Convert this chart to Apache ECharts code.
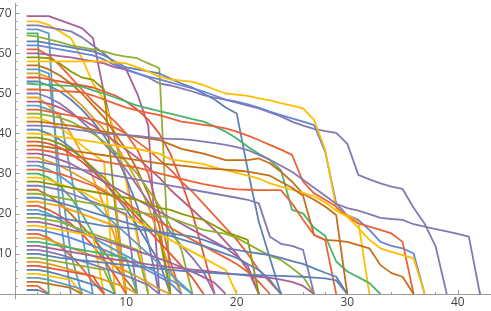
<!DOCTYPE html>
<html><head><meta charset="utf-8">
<script src="https://cdn.jsdelivr.net/npm/echarts@6/dist/echarts.min.js"></script>
<style>html,body{margin:0;padding:0;background:#fff}#c{width:491px;height:311px}</style>
</head><body><div id="c"></div>
<script>
// Tick labels
const xTickLabels = [10, 20, 30, 40];
const yTickLabels = [10, 20, 30, 40, 50, 60, 70];
const xMinorTicks = [2,4,6,8,12,14,16,18,22,24,26,28,32,34,36,38,42];
const yMinorTicks = [2,4,6,8,12,14,16,18,22,24,26,28,32,34,36,38,42,44,46,48,52,54,56,58,62,64,66,68,72];

// Each line: y values at x = 1, 2, 3, ...  (named by starting value)
const s69 = [69.3,69.3,69.3,68.3,67.3,66.3,63.8,50,38.4,29,15,0];
const s68 = [68,68,67.1,65.5,63.8,58.8,52.5,48.4,40,28,14,0];
const s67 = [67,67,66.5,66,65.5,64,62,60,57.5,55.9,55,54,52.5,52,51.3,50.5,49.6,49,48.4,47.7,47,46.3,45.3,44.3,43,42,41.2,40.6,40.2,37.5,29.7,28.6,27.6,26.8,26.2,21.5,17.5,11.8,0];
const s66 = [66,66,65,20,0];
const s65 = [65,65,0];
const s64 = [64.5,64.2,63.5,62.8,62,61.5,61,60.5,59.7,59.2,58.8,57.5,56.3,0];
const s63 = [63,63,62.5,62,61.5,61,60.5,59.5,58,56.5,56,55.5,55,53.7,52.5,51.5,50,48.5,46.5,45,31,18,9,0];
const s62 = [62,62,61.5,61,60.5,60,59.5,58.5,57,56,55,54.2,53.5,52.8,52,51.3,50.5,49.5,48.5,48,47.3,46.5,45.5,44.6,43.8,43,42.1,35.5,22.6,19.7,18.5,16,13,12,11.4,10.1,0];
const s61 = [61,61,59.5,57,54,51,48,45.5,43,40,36,30,20,8,0];
const s60 = [60,60,59.7,59.3,59,58.5,58,57.5,56.5,56,50,42,0];
const s59 = [59,59,58.8,57.5,55.5,54,53.4,51,22,0];
const s58 = [58,58,58,58,58,58,58,58,57.8,57.5,56.5,55.5,54.2,53.5,53.2,52.9,52.1,51,50,49.7,49.4,48.8,48.3,47.6,47,46.3,43.4,36,21.4,19.7,18,0];
const s57 = [57,57,56,54.5,52.5,50,47,44,40,36,31,25,17,0];
const s56 = [56,56,55,30,10,0];
const s55 = [55,55,54,52,49.5,47,44,41,37.5,33,28,22,14,6,0];
const s54 = [54,54,53.5,53,52.5,52,51.5,50.5,49.5,48,46,43.5,40,35,28,20,10,0];
const s53 = [53,53,52,50.5,48.5,46,43,39.5,35,29,22,13,0];
const s52 = [52.5,52.3,52.2,52,51.9,51.7,50.8,50,49,48,47,46.3,45.6,45,44.3,43.6,43,41.8,40.5,38.8,36.7,35,33.4,30.9,21,20.1,16.5,14.5,8.1,5.6,4.2,2.7,0];
const s51 = [51,51,50.8,50.6,50.5,50.3,49.5,48.5,47.5,46.5,45.8,45.2,44.6,43.8,43,42.6,42.2,41.8,41.3,40.5,39.5,38.4,37.2,36,34.7,28,25.1,23.5,21.8,19.3,17.6,16.8,16,15.1,13,0];
const s50 = [50,50,49,47.5,45.5,43,40.5,37.5,34.5,31,27,23,19,15.5,12,9,5.5,0];
const s49 = [49,49,47,44,40,35,29,22,14,0];
const s48 = [48,48,47.5,46.5,45,43.5,42,40,38,36,34,31.5,29,26,23.5,21,18.5,16,13,10,6,0];
const s47 = [47,47,46,45,30,15,0];
const s46 = [46,46,45.5,45,44.5,44,43.5,42.5,41.5,40,38,36,33.5,31,28,25.5,22.5,19.5,16.5,13.5,10,6,3,0];
const s45 = [45,45,44.5,44,43,41.5,40,38,35.5,33,30,26,22,17,11,0];
const s44 = [44,44,43,41.5,39.5,37,35,33,0];
const s43 = [43,43,42.7,42.3,42,41.5,41,40.5,40,39.6,39.2,38.8,38.4,37.3,36.2,35.6,35,34.2,33.4,33.4,33.4,33.8,32.6,30.5,28,25,23.5,21.8,19.7,0];
const s42 = [42,42,41.8,41.5,41.2,40.8,40.4,40,39.8,39.6,39.4,39.1,38.8,38.7,38.6,38.4,38,37.6,37.2,36.6,35.9,34.7,33.5,32,30.5,28.5,26.5,24.5,22.5,21.4,20.8,19.9,19,18.7,18.5,17.4,16.8,16.2,15.6,15,14.3,0];
const s41 = [41,41,40,38.5,36.5,34,31,28,24.5,21,17,12.5,8,0];
const s40 = [40,40,39.6,39.2,38.8,38.4,38,37.5,37,36.6,36.2,35.6,35,33.6,33.2,32.8,32.4,31.6,30.9,30.2,29.5,28.8,27.6,26.8,26,25.2,24.3,22.8,20.8,19.3,16.5,13.5,11.4,10.5,9.7,8.9,0];
const s39 = [39,39,38.5,37.5,36,34,31.5,29,26,23,20,17,14.5,0];
const s38 = [38,38,37.5,36.5,35,33,30.5,28,25,22,19,16,13,10,7,4,0];
const s37 = [37,37,36.6,36.2,35.8,35.4,35,34.6,34.2,33.8,33.4,33,32.6,32.3,32,31.7,31.4,31.2,31,30.8,30.5,30,29.5,28,26.5,24.5,14.7,13.5,13.3,13,12.2,11.4,7.2,5.2,4.3,0];
const s36 = [36,36,35.6,35,34.5,34,33.5,33,32.5,32,31.5,30.8,30.1,29.4,28.7,28,27.4,26.9,26.4,26.1,26,25.9,25.9,25.9,22.6,18.5,14.7,13.5,0];
const s35 = [35,35,34.5,33.5,32.5,31,29.5,28,26.5,25,23.5,22,20.5,19,17.5,16,14.5,13,11.5,9.5,7,0];
const s34 = [34,34,33,32,30.5,29,27.5,26,24,0];
const s33 = [33,33,32.5,32,31.5,31,30.5,30,29.5,29,28.5,28,27.5,27,26.5,26,25.5,25,24.5,24,23.5,22.6,14.3,12.5,12,11,0];
const s32 = [32,32,31,29.5,27.5,25,22.5,20,17.5,15,12.5,10,7.5,5,2.5,0];
const s31 = [31,31,30.5,30,29,28,27,25.5,24,22.5,21,19.5,18,16.5,15,13.5,12,10.5,9,7.5,5.5,3,0];
const s30 = [30,30,29,27,24,20,15,9,0];
const s29 = [29,29,28.5,27.5,26.5,25.5,24,22.5,21,19.5,18,16.5,15,13.5,12,10.5,9,7.5,6,0];
const s28 = [28,28,27.5,27,26.5,26,25.5,25,24.5,24,23.5,22.5,21.5,21,20,19.2,18.5,17,15.5,14.5,13.5,0];
const s27 = [27,27,26.5,26,25,24,23,22,21,20,0];
const s26 = [26,26,24.5,22.5,20,17,14,10.5,7,3.5,0];
const s25 = [25,25,24.5,24,23.5,23,22.5,22,21.5,21,20.5,20,19.5,19,18,17,16,15.5,15,14,12.5,11,9.5,8.5,6.5,4.3,0];
const s24 = [24,24,23.5,22.8,22,21.2,20.3,19.5,18.6,17.8,17,16.1,15.3,14.5,13.6,12.8,12,11,10,9,7.5,6,3.5,0];
const s23 = [23,23,22.5,22,21,20,19,18,17,0];
const s22 = [22,22,21,19.5,17.5,15,12,8.5,4.5,0];
const s21 = [21,21,20,18.5,17,15.5,14,12.5,11,9.5,8,6.5,5,3.5,2,0];
const s20 = [20,20,19.5,19,18.5,18,17.5,17,16.8,16.5,16.2,15.8,15.5,15.1,14.7,14.3,13.5,12.5,11.4,11,10.5,10.1,9.7,9,8.2,7.5,6.4,5.3,4.3,0];
const s19 = [19,19,18.5,18,17,16,15,14,13,12,11,0];
const s18 = [18,18,17.5,16.8,16,15.2,14.3,13.4,12.5,11.6,10.7,9.8,8.8,7.8,6.7,5.5,4.2,2.8,0];
const s17 = [17,17,16.5,16,15.5,15,14.5,0];
const s16 = [16,16,15.5,14.8,14,13,12,11,9.8,8.5,7.2,5.8,4.3,2.7,0];
const s15 = [15,15,14,12,9.5,6.5,3,0];
const s14 = [14,14,13.5,12.5,11.5,10.5,9.5,8.3,7,5.7,4.3,2.8,1.2,0];
const s13 = [13,13,12.5,12,11.5,11,10.5,10,9.5,9,0];
const s12 = [12,12,11.5,11,10.5,10,9.5,9,8.6,8.2,7.8,7.4,7,6.7,6.4,6.1,5.8,5.5,5.2,4.9,4.6,4.3,4,3.6,3,2,0];
const s11 = [11,11,10.5,9.8,9,8.2,7.3,6.4,5.5,4.5,3.4,2.2,0];
const s10 = [10,10,9.5,9,8.7,8.4,8.1,7.8,7.5,7.2,6.9,6.6,6.3,6,5.8,5.6,5.4,5.2,5,4.9,4.8,4.7,4.6,4.5,4.4,4.3,4.1,3.9,3.4,0];
const s9 = [9,9,8.5,8,7.5,7,6.5,6,0];
const s8 = [8,8,7.5,6.8,6,5.2,4.4,3.5,2.6,1.6,0];
const s7 = [7,7,6.5,6,5.5,5,4.5,0];
const s6 = [6,6,5.5,4.8,4,3.2,2.3,1.3,0];
const s5 = [5,5,4.5,4,3.5,0];
const s4 = [4,4,3.5,2.8,2,1.2,0];
const s3 = [3,3,2.5,2,1.5,0];
const s2 = [2,2,0];
const s1 = [1,1,0];

const allLines = [s69,s68,s67,s66,s65,s64,s63,s62,s61,s60,s59,s58,s57,s56,s55,s54,s53,s52,s51,s50,
  s49,s48,s47,s46,s45,s44,s43,s42,s41,s40,s39,s38,s37,s36,s35,s34,s33,s32,s31,s30,
  s29,s28,s27,s26,s25,s24,s23,s22,s21,s20,s19,s18,s17,s16,s15,s14,s13,s12,s11,s10,
  s9,s8,s7,s6,s5,s4,s3,s2,s1];

// Style (colours per line, same order)
const lineColors = ['#a5609d','#ffbf00','#8778b3','#5d9ec7','#47b66d','#8fb032','#5e81b5','#6685d9','#eb6235','#a5609d',
  '#929600','#ffbf00','#c56e1a','#5d9ec7','#e19c24','#e95536','#5e81b5','#47b66d','#eb6235','#8778b3',
  '#f89f13','#bc5b80','#5d9ec7','#eb6235','#8fb032','#ffbf00','#c56e1a','#8778b3','#5e81b5','#ffbf00',
  '#929600','#e95536','#c56e1a','#eb6235','#a5609d','#e19c24','#8778b3','#5d9ec7','#eb6235','#47b66d',
  '#ffbf00','#929600','#8778b3','#c56e1a','#8fb032','#5e81b5','#f89f13','#e95536','#5d9ec7','#5e81b5',
  '#8fb032','#a5609d','#ffbf00','#6685d9','#eb6235','#e19c24','#47b66d','#a5609d','#8778b3','#5e81b5',
  '#8fb032','#e19c24','#e95536','#5e81b5','#ffbf00','#5d9ec7','#c56e1a','#eb6235','#5e81b5'];

const axisColor = '#9a9a9a';
const labelStyle = {color:'#444', fontSize:12, fontFamily:'"Open Sans", "DejaVu Sans", sans-serif'};
const X_MIN = -1.41, X_MAX = 43.0, Y_MIN = -1.25, Y_MAX = 72.5;
const W = 491, H = 311, G_LEFT = 0, G_RIGHT = 0, G_TOP = 3.3, G_BOTTOM = 12;
// offsets that put each axis at the other axis's zero
const yAxisOffset = -((0 - X_MIN) / (X_MAX - X_MIN)) * (W - G_LEFT - G_RIGHT);
const xAxisOffset = -((0 - Y_MIN) / (Y_MAX - Y_MIN)) * (H - G_TOP - G_BOTTOM);

const chart = echarts.init(document.getElementById('c'), null, {renderer:'canvas'});
chart.setOption({
  animation: false,
  backgroundColor: '#fff',
  grid: {left: G_LEFT, right: G_RIGHT, top: G_TOP, bottom: G_BOTTOM, containLabel: false, outerBoundsMode: 'none'},
  xAxis: [
    {type:'value', min:X_MIN, max:X_MAX, position:'bottom', offset:xAxisOffset, splitLine:{show:false},
     axisLine:{onZero:false, show:false},
     axisTick:{inside:true, length:4, customValues:xTickLabels, lineStyle:{color:axisColor}},
     axisLabel:Object.assign({customValues:xTickLabels, margin:3}, labelStyle)},
    {type:'value', min:X_MIN, max:X_MAX, position:'bottom', offset:xAxisOffset, splitLine:{show:false},
     axisLine:{onZero:false, show:true, lineStyle:{color:axisColor, width:1}},
     axisTick:{inside:true, length:2, customValues:xMinorTicks, lineStyle:{color:axisColor}},
     axisLabel:{show:false}}
  ],
  yAxis: [
    {type:'value', min:Y_MIN, max:Y_MAX, position:'left', offset:yAxisOffset, splitLine:{show:false},
     axisLine:{onZero:false, show:false},
     axisTick:{inside:true, length:4, customValues:yTickLabels, lineStyle:{color:axisColor}},
     axisLabel:Object.assign({customValues:yTickLabels, margin:4}, labelStyle)},
    {type:'value', min:Y_MIN, max:Y_MAX, position:'left', offset:yAxisOffset, splitLine:{show:false},
     axisLine:{onZero:false, show:true, lineStyle:{color:axisColor, width:1}},
     axisTick:{inside:true, length:2, customValues:yMinorTicks, lineStyle:{color:axisColor}},
     axisLabel:{show:false}}
  ],
  series: allLines.map((vals, i) => ({
    type:'line',
    xAxisIndex:0, yAxisIndex:0,
    data: vals.map((v, j) => [j + 1, v]),
    symbol:'none', silent:true,
    lineStyle:{width:1.8, color:lineColors[i]},
    itemStyle:{color:lineColors[i]}
  }))
});
</script></body></html>
